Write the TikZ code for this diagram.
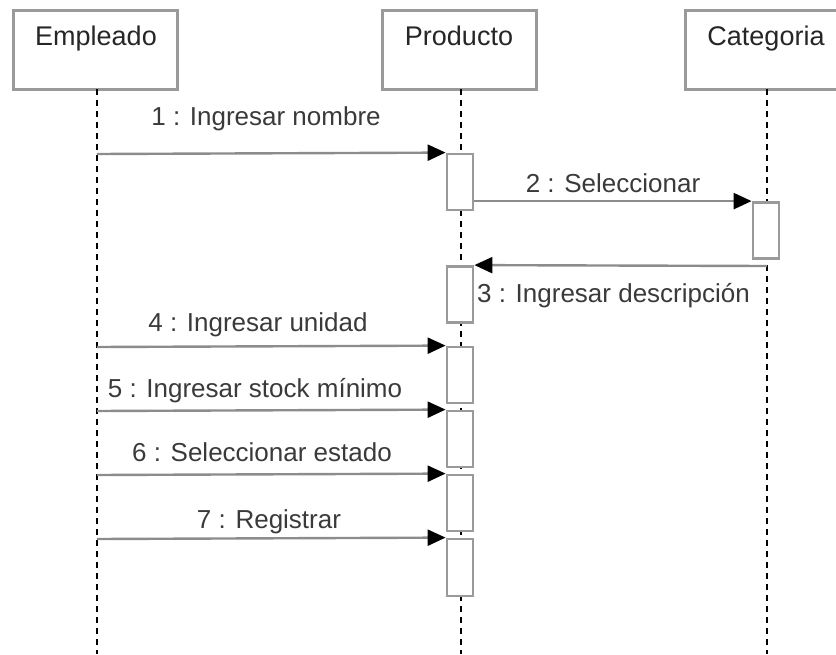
\documentclass[tikz,border=0pt]{standalone}
\usepackage{fontspec}
\setmainfont{Liberation Sans}
\usetikzlibrary{arrows.meta}
\definecolor{frame}{HTML}{9A9A9A}
\definecolor{msgline}{HTML}{8C8C8C}
\definecolor{txt}{HTML}{3A3A3A}
\begin{document}
\begin{tikzpicture}[x=1pt,y=-1pt,
  actorbox/.style={draw=frame, line width=3pt, fill=white, inner sep=0pt},
  actortext/.style={text=black!85, font=\fontsize{27}{30}\selectfont, inner sep=0pt, anchor=base},
  lifeline/.style={draw=black, line width=1.4pt, dash pattern=on 6pt off 5pt},
  actbox/.style={draw=frame, line width=2.8pt, fill=white, minimum width=26pt, inner sep=0pt},
  msg/.style={draw=msgline, line width=2.4pt, -{Triangle[length=18pt,width=16pt,fill=black,color=black]}},
  msgtext/.style={text=txt, font=\fontsize{26}{30}\selectfont, inner sep=0pt, anchor=base},
]
\useasboundingbox (0,0) rectangle (836,654);

% participants
\node[actorbox, minimum width=164pt, minimum height=79pt] (emp) at (95,49.5) {};
\node[actorbox, minimum width=154pt, minimum height=79pt] (prod) at (459,49.5) {};
\node[actorbox, minimum width=164pt, minimum height=79pt] (cat) at (767,49.5) {};
\node[actortext] (empname)  at (96,45) {Empleado};
\node[actortext] (prodname) at (459,45) {Producto};
\node[actortext] (catname)  at (766,45) {Categoria};

% lifelines
\coordinate (empTop) at (97,89);   \coordinate (empEnd) at (97,654);
\coordinate (prodTop) at (461,89); \coordinate (prodEnd) at (461,654);
\coordinate (catTop) at (767,89);  \coordinate (catEnd) at (767,654);
\draw[lifeline] (empTop) -- (empEnd);
\draw[lifeline] (prodTop) -- (prodEnd);
\draw[lifeline] (catTop) -- (catEnd);

% activation bars
\node[actbox, minimum height=56pt] (a1) at (460,182) {};
\node[actbox, minimum height=56pt] (a2) at (766,230.5) {};
\node[actbox, minimum height=56pt] (a3) at (460,294.5) {};
\node[actbox, minimum height=56pt] (a4) at (460,375) {};
\node[actbox, minimum height=56pt] (a5) at (460,439) {};
\node[actbox, minimum height=56pt] (a6) at (460,503) {};
\node[actbox, minimum height=57pt] (a7) at (460,567.5) {};

% message origins on the lifelines
\coordinate (m1) at (97,154);
\coordinate (m3) at (767,266);
\coordinate (m4) at (97,347);
\coordinate (m5) at (97,411);
\coordinate (m6) at (97,475);
\coordinate (m7) at (97,539);

% messages
\draw[msg] (m1) -- (a1.north west);
\draw[msg] (a1.east |- a2.north) -- (a2.north west);
\draw[msg] (m3) -- (a3.north east);
\draw[msg] (m4) -- (a4.north west);
\draw[msg] (m5) -- (a5.north west);
\draw[msg] (m6) -- (a6.north west);
\draw[msg] (m7) -- (a7.north west);

% message labels
\node[msgtext] (l1) at (266,125) {1 : Ingresar nombre};
\node[msgtext] (l2) at (613,192) {2 : Seleccionar};
\node[msgtext, anchor=base west] (l3) at (477,302) {3 : Ingresar descripción};
\node[msgtext] (l4) at (258,331) {4 : Ingresar unidad};
\node[msgtext] (l5) at (255,397) {5 : Ingresar stock mínimo};
\node[msgtext] (l6) at (262,461) {6 : Seleccionar estado};
\node[msgtext] (l7) at (269,528) {7 : Registrar};
\end{tikzpicture}
\end{document}
